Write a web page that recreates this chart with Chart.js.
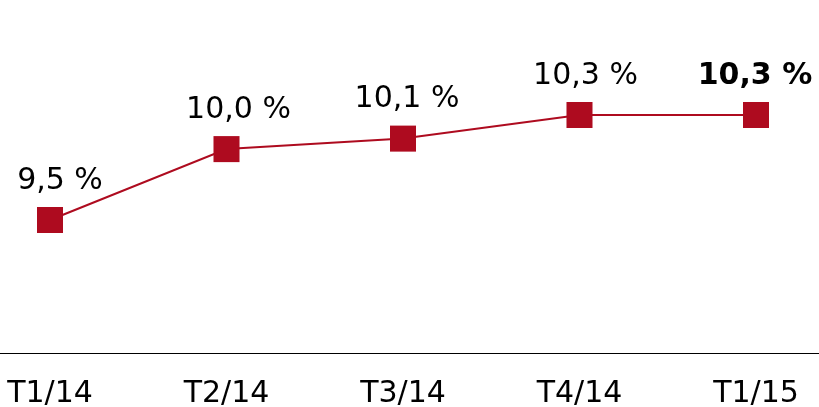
<!DOCTYPE html>
<html>
<head>
<meta charset="utf-8">
<script src="https://cdn.jsdelivr.net/npm/chart.js@4/dist/chart.umd.min.js"></script>
<style>
html,body{margin:0;padding:0;background:#fff;}
#wrap{width:819px;height:407px;}
</style>
</head>
<body>
<div id="wrap"><canvas id="c" width="819" height="407"></canvas></div>
<script>
const categories = ["T1/14", "T2/14", "T3/14", "T4/14", "T1/15"];
const values = [9.5, 10.04, 10.12, 10.3, 10.3];
const valueLabels = ["9,5 %", "10,0 %", "10,1 %", "10,3 %", "10,3 %"];
const boldLabel = [false, false, false, false, true];

const RED = "#ae0b1f";
const FONT = "'DejaVu Sans', Verdana, sans-serif";
const labelDx = [10, 12, 4, 6, -1];

const labelPlugin = {
  id: "valueLabels",
  afterDatasetsDraw(chart) {
    const ctx = chart.ctx;
    const meta = chart.getDatasetMeta(0);
    ctx.save();
    ctx.fillStyle = "#000";
    ctx.textAlign = "center";
    ctx.textBaseline = "middle";
    meta.data.forEach((pt, i) => {
      ctx.font = (boldLabel[i] ? "bold " : "") + "30px " + FONT;
      ctx.fillText(valueLabels[i], pt.x + labelDx[i], pt.y - 39);
    });
    ctx.restore();
  }
};

new Chart(document.getElementById("c"), {
  type: "line",
  data: {
    datasets: [{
      data: values.map((v, i) => ({x: i, y: v})),
      borderColor: RED,
      backgroundColor: RED,
      borderWidth: 2,
      pointStyle: "rect",
      pointRadius: 18.4,
      pointHoverRadius: 18.4,
      pointBorderWidth: 0,
      pointBackgroundColor: RED,
      tension: 0,
      fill: false,
      clip: false
    }]
  },
  options: {
    responsive: false,
    animation: false,
    events: [],
    layout: {padding: 0, autoPadding: false},
    plugins: {legend: {display: false}, tooltip: {enabled: false}},
    scales: {
      x: {
        type: "linear",
        min: -0.2833,
        max: 4.357,
        afterBuildTicks(axis) {
          axis.ticks = categories.map((c, i) => ({value: i}));
        },
        afterFit(axis) {
          axis.paddingLeft = 0;
          axis.paddingRight = 0;
          axis.height = 54;
        },
        ticks: {
          autoSkip: false,
          maxRotation: 0,
          padding: 23,
          color: "#000",
          font: {family: FONT, size: 30},
          callback: (v) => categories[v] ?? ""
        },
        grid: {display: false, drawTicks: false},
        border: {display: true, color: "#000", width: 1}
      },
      y: {
        display: false,
        min: 8.4867,
        max: 11.176
      }
    }
  },
  plugins: [labelPlugin]
});
</script>
</body>
</html>
